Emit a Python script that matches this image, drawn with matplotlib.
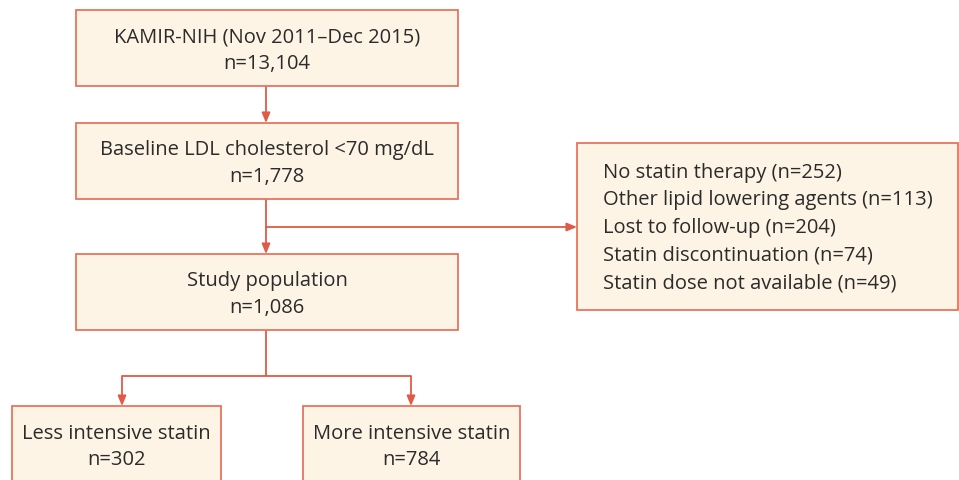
import matplotlib.pyplot as plt
from matplotlib.patches import Rectangle

plt.rcParams['font.family'] = ['Open Sans', 'DejaVu Sans']

# box texts
cohort = ["KAMIR-NIH (Nov 2011\u2013Dec 2015)", "n=13,104"]
baseline = ["Baseline LDL cholesterol <70 mg/dL", "n=1,778"]
study = ["Study population", "n=1,086"]
excluded = ["No statin therapy (n=252)",
            "Other lipid lowering agents (n=113)",
            "Lost to follow-up (n=204)",
            "Statin discontinuation (n=74)",
            "Statin dose not available (n=49)"]
groups = [["Less intensive statin", "n=302"],
          ["More intensive statin", "n=784"]]

fill = "#fdf4e5"
edge = "#e8735f"
arrow_c = "#e05a48"
txt_c = "#2b2b2b"

fig = plt.figure(figsize=(9.59, 4.8), dpi=100)
ax = fig.add_axes([0, 0, 1, 1])
ax.set_xlim(0, 959)
ax.set_ylim(480, 0)
ax.axis("off")


def box(x0, y0, x1, y1, lines, left=None, fs=14.5, spacing=1.43, dy=2.5):
    ax.add_patch(Rectangle((x0, y0), x1 - x0, y1 - y0, facecolor=fill,
                           edgecolor=edge, lw=1.3, zorder=2))
    txt = "\n".join(lines)
    yc = (y0 + y1) / 2 + dy
    if left is None:
        ax.text((x0 + x1) / 2, yc, txt, ha="center", va="center",
                fontsize=fs, color=txt_c, linespacing=spacing, zorder=3)
    else:
        ax.text(left, yc, txt, ha="left", va="center",
                fontsize=fs, color=txt_c, linespacing=spacing, zorder=3)


def arrow(x0, y0, x1, y1):
    ax.annotate("", xy=(x1, y1), xytext=(x0, y0),
                arrowprops=dict(arrowstyle="-|>,head_length=0.6,head_width=0.25",
                                color=arrow_c, lw=1.3, shrinkA=0, shrinkB=0),
                zorder=1)


def line(xs, ys):
    ax.plot(xs, ys, color=arrow_c, lw=1.3, zorder=1, solid_capstyle="butt")


box(76, 10, 458, 86, cohort)
box(76, 123, 458, 199, baseline)
box(76, 254, 458, 330, study)
box(577, 143, 958, 310, excluded, left=603, spacing=1.5, dy=1.5)
box(12, 406, 221, 483, groups[0])
box(303, 406, 520, 483, groups[1])

arrow(266, 86, 266, 123)
arrow(266, 199, 266, 254)
arrow(266, 227, 577, 227)
line([266, 266], [330, 376])
line([122, 411], [376, 376])
arrow(122, 376, 122, 406)
arrow(411, 376, 411, 406)

fig.savefig("out.png", dpi=100, facecolor="white")
